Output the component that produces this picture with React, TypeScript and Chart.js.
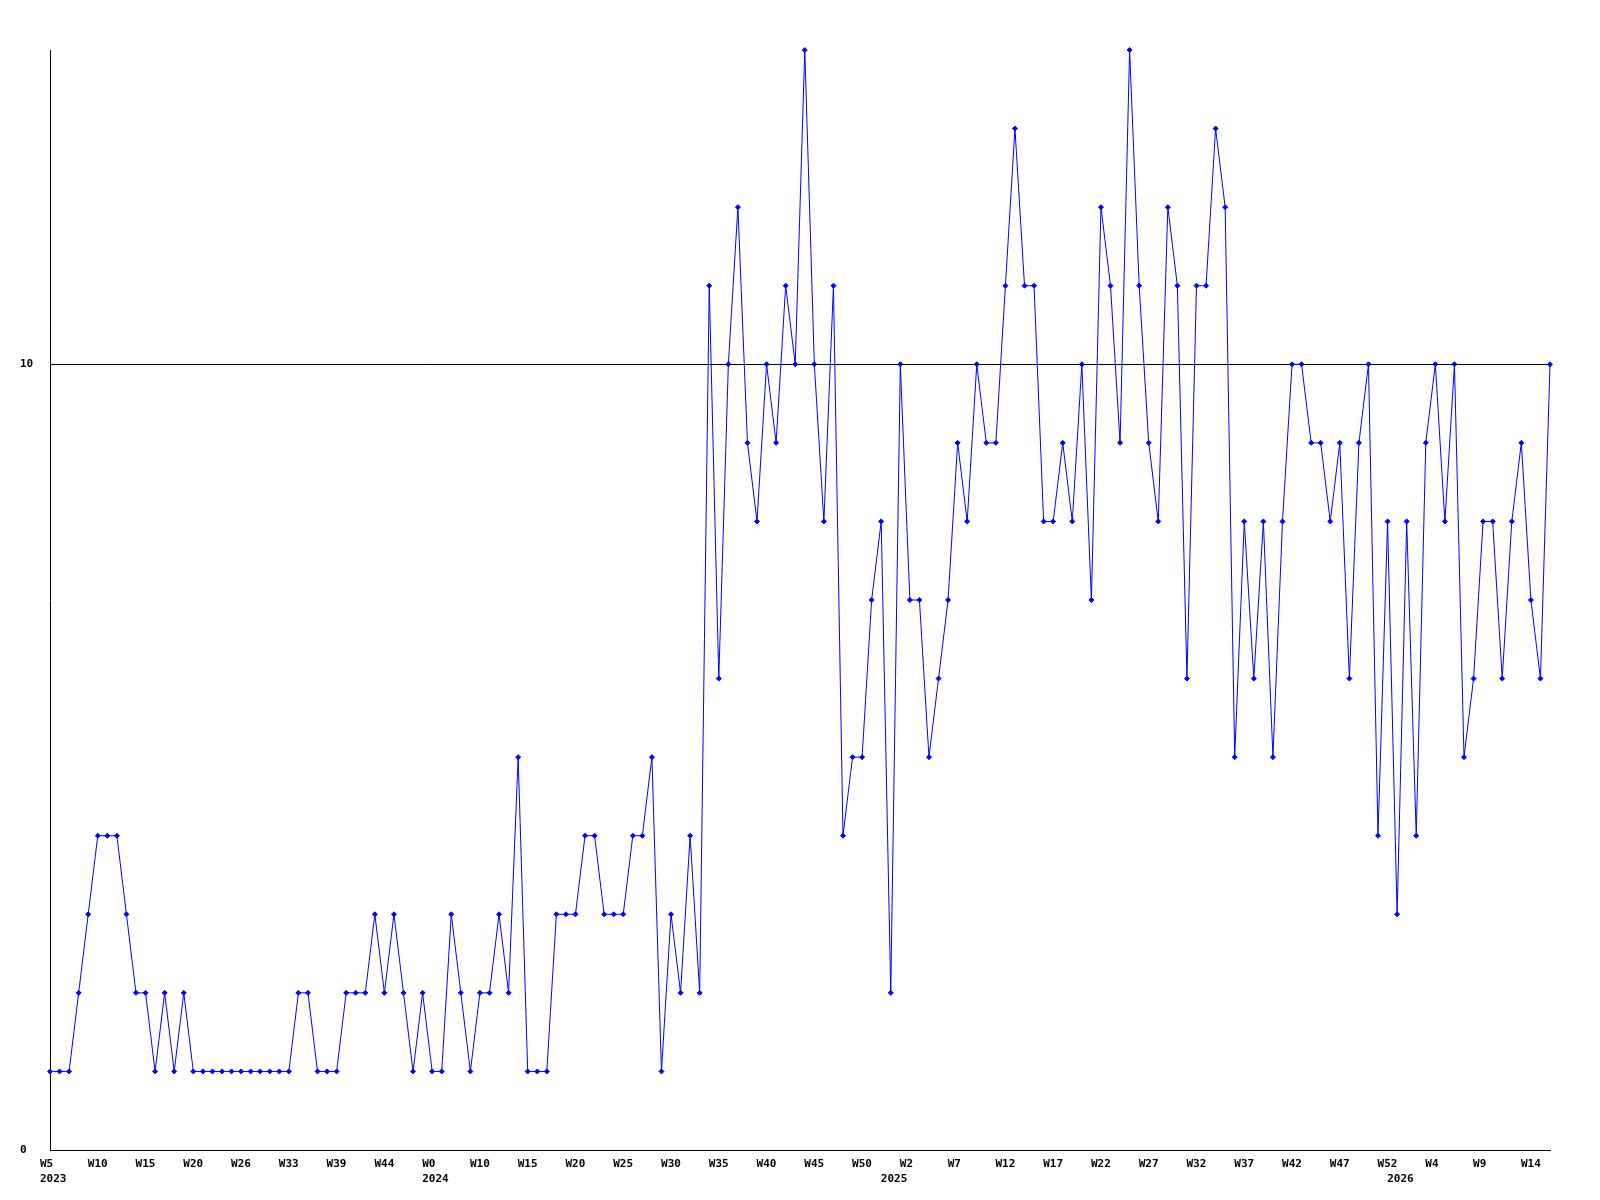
import React, { useEffect, useRef } from "react";
import { Chart, registerables } from "chart.js";

Chart.register(...registerables);

// Week labels (only weeks with activity are present)
const weeks2023 = [
  "W5", "W6", "W7", "W8", "W9", "W10", "W11", "W12", "W13", "W14",
  "W15", "W16", "W17", "W18", "W19", "W20", "W21", "W22", "W23", "W25",
  "W26", "W27", "W28", "W30", "W31", "W33", "W34", "W35", "W36", "W38",
  "W39", "W40", "W41", "W42", "W43", "W44", "W45", "W47", "W49", "W51",
];
const weeks2024 = [
  "W0", "W2", "W4", "W6", "W8", "W10", "W11", "W12", "W13", "W14",
  "W15", "W16", "W17", "W18", "W19", "W20", "W21", "W22", "W23", "W24",
  "W25", "W26", "W27", "W28", "W29", "W30", "W31", "W32", "W33", "W34",
  "W35", "W36", "W37", "W38", "W39", "W40", "W41", "W42", "W43", "W44",
  "W45", "W46", "W47", "W48", "W49", "W50", "W51", "W52",
];
const weeks2025 = [
  "W0", "W1", "W2", "W3", "W4", "W5", "W6", "W7", "W8", "W9",
  "W10", "W11", "W12", "W13", "W14", "W15", "W16", "W17", "W18", "W19",
  "W20", "W21", "W22", "W23", "W24", "W25", "W26", "W27", "W28", "W29",
  "W30", "W31", "W32", "W33", "W34", "W35", "W36", "W37", "W38", "W39",
  "W40", "W41", "W42", "W43", "W44", "W45", "W46", "W47", "W48", "W49",
  "W50", "W51", "W52",
];
const weeks2026 = [
  "W0", "W1", "W2", "W3", "W4", "W5", "W6", "W7", "W8", "W9",
  "W10", "W11", "W12", "W13", "W14", "W15", "W16",
];

// Weekly values
const values2023 = [
  1, 1, 1, 2, 3, 4, 4, 4, 3, 2,
  2, 1, 2, 1, 2, 1, 1, 1, 1, 1,
  1, 1, 1, 1, 1, 1, 2, 2, 1, 1,
  1, 2, 2, 2, 3, 2, 3, 2, 1, 2,
];
const values2024 = [
  1, 1, 3, 2, 1, 2, 2, 3, 2, 5,
  1, 1, 1, 3, 3, 3, 4, 4, 3, 3,
  3, 4, 4, 5, 1, 3, 2, 4, 2, 11,
  6, 10, 12, 9, 8, 10, 9, 11, 10, 14,
  10, 8, 11, 4, 5, 5, 7, 8,
];
const values2025 = [
  2, 10, 7, 7, 5, 6, 7, 9, 8, 10,
  9, 9, 11, 13, 11, 11, 8, 8, 9, 8,
  10, 7, 12, 11, 9, 14, 11, 9, 8, 12,
  11, 6, 11, 11, 13, 12, 5, 8, 6, 8,
  5, 8, 10, 10, 9, 9, 8, 9, 6, 9,
  10, 4, 8,
];
const values2026 = [
  3, 8, 4, 9, 10, 8, 10, 5, 6, 8,
  8, 6, 8, 9, 7, 6, 10,
];

const years = ["2023", "2024", "2025", "2026"];
const yTicks = [0, 10];
const yMax = 14;

const weekGroups = [weeks2023, weeks2024, weeks2025, weeks2026];
const valueGroups = [values2023, values2024, values2025, values2026];

const labels: string[] = ([] as string[]).concat(...weekGroups);
const values: number[] = ([] as number[]).concat(...valueGroups);
const yearStart: Record<number, string> = {};
{
  let idx = 0;
  weekGroups.forEach((g, i) => {
    yearStart[idx] = years[i];
    idx += g.length;
  });
}

const FONT = { family: "'DejaVu Sans Mono', 'Liberation Mono', monospace", size: 11, weight: "bold" as const, lineHeight: 1.4 };

export default function App() {
  const ref = useRef<HTMLCanvasElement | null>(null);

  useEffect(() => {
    if (!ref.current) return;
    const chart = new Chart(ref.current, {
      type: "line",
      data: {
        labels,
        datasets: [
          {
            data: values,
            borderColor: "#0000ff",
            backgroundColor: "#0000ff",
            borderWidth: 1,
            tension: 0,
            fill: false,
            pointStyle: "rectRot",
            pointRadius: 2.5,
            pointBorderWidth: 1,
            pointBorderColor: "#0000ff",
            pointBackgroundColor: "#0000ff",
            clip: false as any,
          },
        ],
      },
      options: {
        animation: false,
        responsive: false,
        maintainAspectRatio: false,
        layout: { padding: { top: 50, right: 50, left: 20, bottom: 0 } },
        plugins: {
          legend: { display: false },
          tooltip: { enabled: false },
          title: { display: false },
        },
        scales: {
          x: {
            type: "category",
            offset: false,
            grid: { display: false, drawTicks: false },
            border: { display: true, color: "#000000", width: 1 },
            afterFit: (s: any) => {
              s.height = 50;
            },
            ticks: {
              autoSkip: false,
              maxRotation: 0,
              minRotation: 0,
              align: "start",
              labelOffset: -10,
              padding: 6,
              color: "#000000",
              font: FONT,
              callback: (_v: any, i: number) => {
                const wk = i % 5 === 0 ? labels[i] : "";
                const yr = yearStart[i];
                if (yr) return [wk, yr];
                return wk;
              },
            },
          },
          y: {
            min: 0,
            max: yMax,
            afterFit: (s: any) => {
              s.width = 30;
            },
            afterBuildTicks: (s: any) => {
              s.ticks = yTicks.map((v) => ({ value: v }));
            },
            grid: { display: true, color: "#000000", lineWidth: 1, drawTicks: false },
            border: { display: true, color: "#000000", width: 1 },
            ticks: {
              crossAlign: "far",
              padding: 0,
              color: "#000000",
              font: FONT,
            },
          },
        },
      },
    });
    return () => chart.destroy();
  }, []);

  return (
    <div style={{ position: "absolute", left: 0, top: 0, width: 1600, height: 1200, background: "#ffffff" }}>
      <canvas ref={ref} width={1600} height={1200} style={{ width: 1600, height: 1200, display: "block" }} />
    </div>
  );
}
